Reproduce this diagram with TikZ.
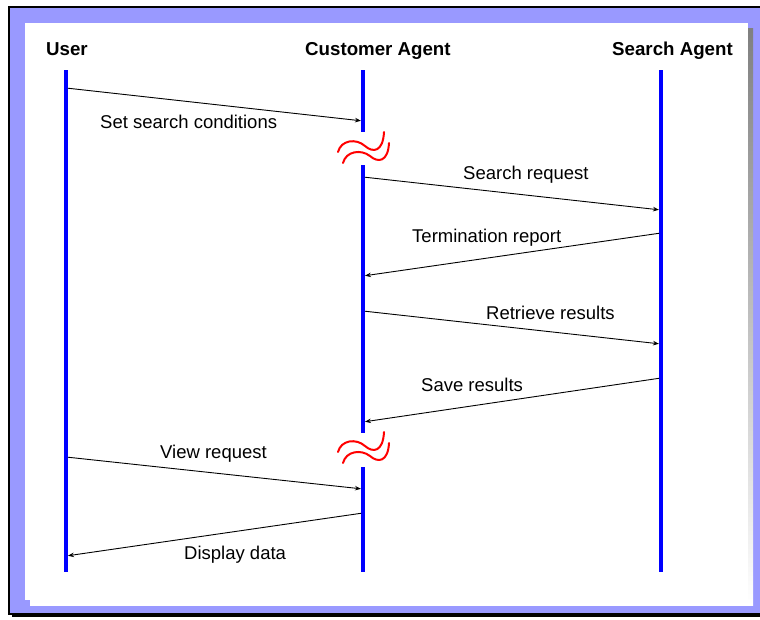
\documentclass[tikz,border=0pt]{standalone}
\usepackage{fontspec}
\setmainfont{Liberation Sans}
\usetikzlibrary{arrows.meta}
\definecolor{lav}{HTML}{9999FF}
\definecolor{shade}{HTML}{808080}
\tikzset{
  lifeline/.style={draw=blue, line width=3.5pt},
  msg/.style={draw=black, line width=0.9pt, -{Stealth[length=6pt,width=4.5pt]}, shorten >=2pt, shorten <=2pt},
  header/.style={anchor=base west, inner sep=0pt, font=\fontsize{18.7}{20}\selectfont\bfseries},
  lbl/.style={anchor=base west, inner sep=0pt, font=\fontsize{18.5}{20}\selectfont},
  brk/.style={draw=red, line width=2pt, line cap=round}
}
\begin{document}
\begin{tikzpicture}[x=1pt,y=-1pt]
\useasboundingbox (0,0) rectangle (760,619);
% outer frame
\fill[black] (12,10) rectangle (770,617);
\filldraw[fill=lav, draw=black, line width=1.5pt] (9,7) rectangle (768,614);
% inner panel with shadow
\fill[shade] (30,28) rectangle (753,605);
\fill[white] (25,23) rectangle (748,600);
% headers
\node[header] (hu) at (46,55) {User};
\node[header] (hc) at (305,55) {Customer Agent};
\node[header] (hs) at (612,55) {Search Agent};
% lifelines
\coordinate (ut) at (66,70);  \coordinate (ub) at (66,572);
\coordinate (st) at (661,70); \coordinate (sb) at (661,572);
\coordinate (ct1) at (363,70);  \coordinate (cb1) at (363,132);
\coordinate (ct2) at (363,165); \coordinate (cb2) at (363,433);
\coordinate (ct3) at (363,467); \coordinate (cb3) at (363,572);
\draw[lifeline] (ut) -- (ub);
\draw[lifeline] (st) -- (sb);
\draw[lifeline] (ct1) -- (cb1);
\draw[lifeline] (ct2) -- (cb2);
\draw[lifeline] (ct3) -- (cb3);
% break marks
\foreach \dy in {0,300}{
  \draw[brk] (338,152+\dy) .. controls (341,140+\dy) and (356,138+\dy) .. (365,146+\dy)
             .. controls (373,153+\dy) and (383,152+\dy) .. (384,132+\dy);
  \draw[brk] (343,163+\dy) .. controls (346,151+\dy) and (361,149+\dy) .. (370,156+\dy)
             .. controls (378,163+\dy) and (388,162+\dy) .. (389,143+\dy);
}
% message endpoints
\coordinate (m1a) at (66,88);   \coordinate (m1b) at (363,121);
\coordinate (m2a) at (363,177); \coordinate (m2b) at (661,210);
\coordinate (m3a) at (661,233); \coordinate (m3b) at (363,276);
\coordinate (m4a) at (363,311); \coordinate (m4b) at (661,344);
\coordinate (m5a) at (661,378); \coordinate (m5b) at (363,422);
\coordinate (m6a) at (66,457);  \coordinate (m6b) at (363,489);
\coordinate (m7a) at (363,513); \coordinate (m7b) at (66,556);
\draw[msg] (m1a) -- (m1b);
\draw[msg] (m2a) -- (m2b);
\draw[msg] (m3a) -- (m3b);
\draw[msg] (m4a) -- (m4b);
\draw[msg] (m5a) -- (m5b);
\draw[msg] (m6a) -- (m6b);
\draw[msg] (m7a) -- (m7b);
% labels
\node[lbl] (l1) at (100,128) {Set search conditions};
\node[lbl] (l2) at (463,179) {Search request};
\node[lbl] (l3) at (412,242) {Termination report};
\node[lbl] (l4) at (486,319) {Retrieve results};
\node[lbl] (l5) at (421,391) {Save results};
\node[lbl] (l6) at (160,458) {View request};
\node[lbl] (l7) at (184,559) {Display data};
\end{tikzpicture}
\end{document}
